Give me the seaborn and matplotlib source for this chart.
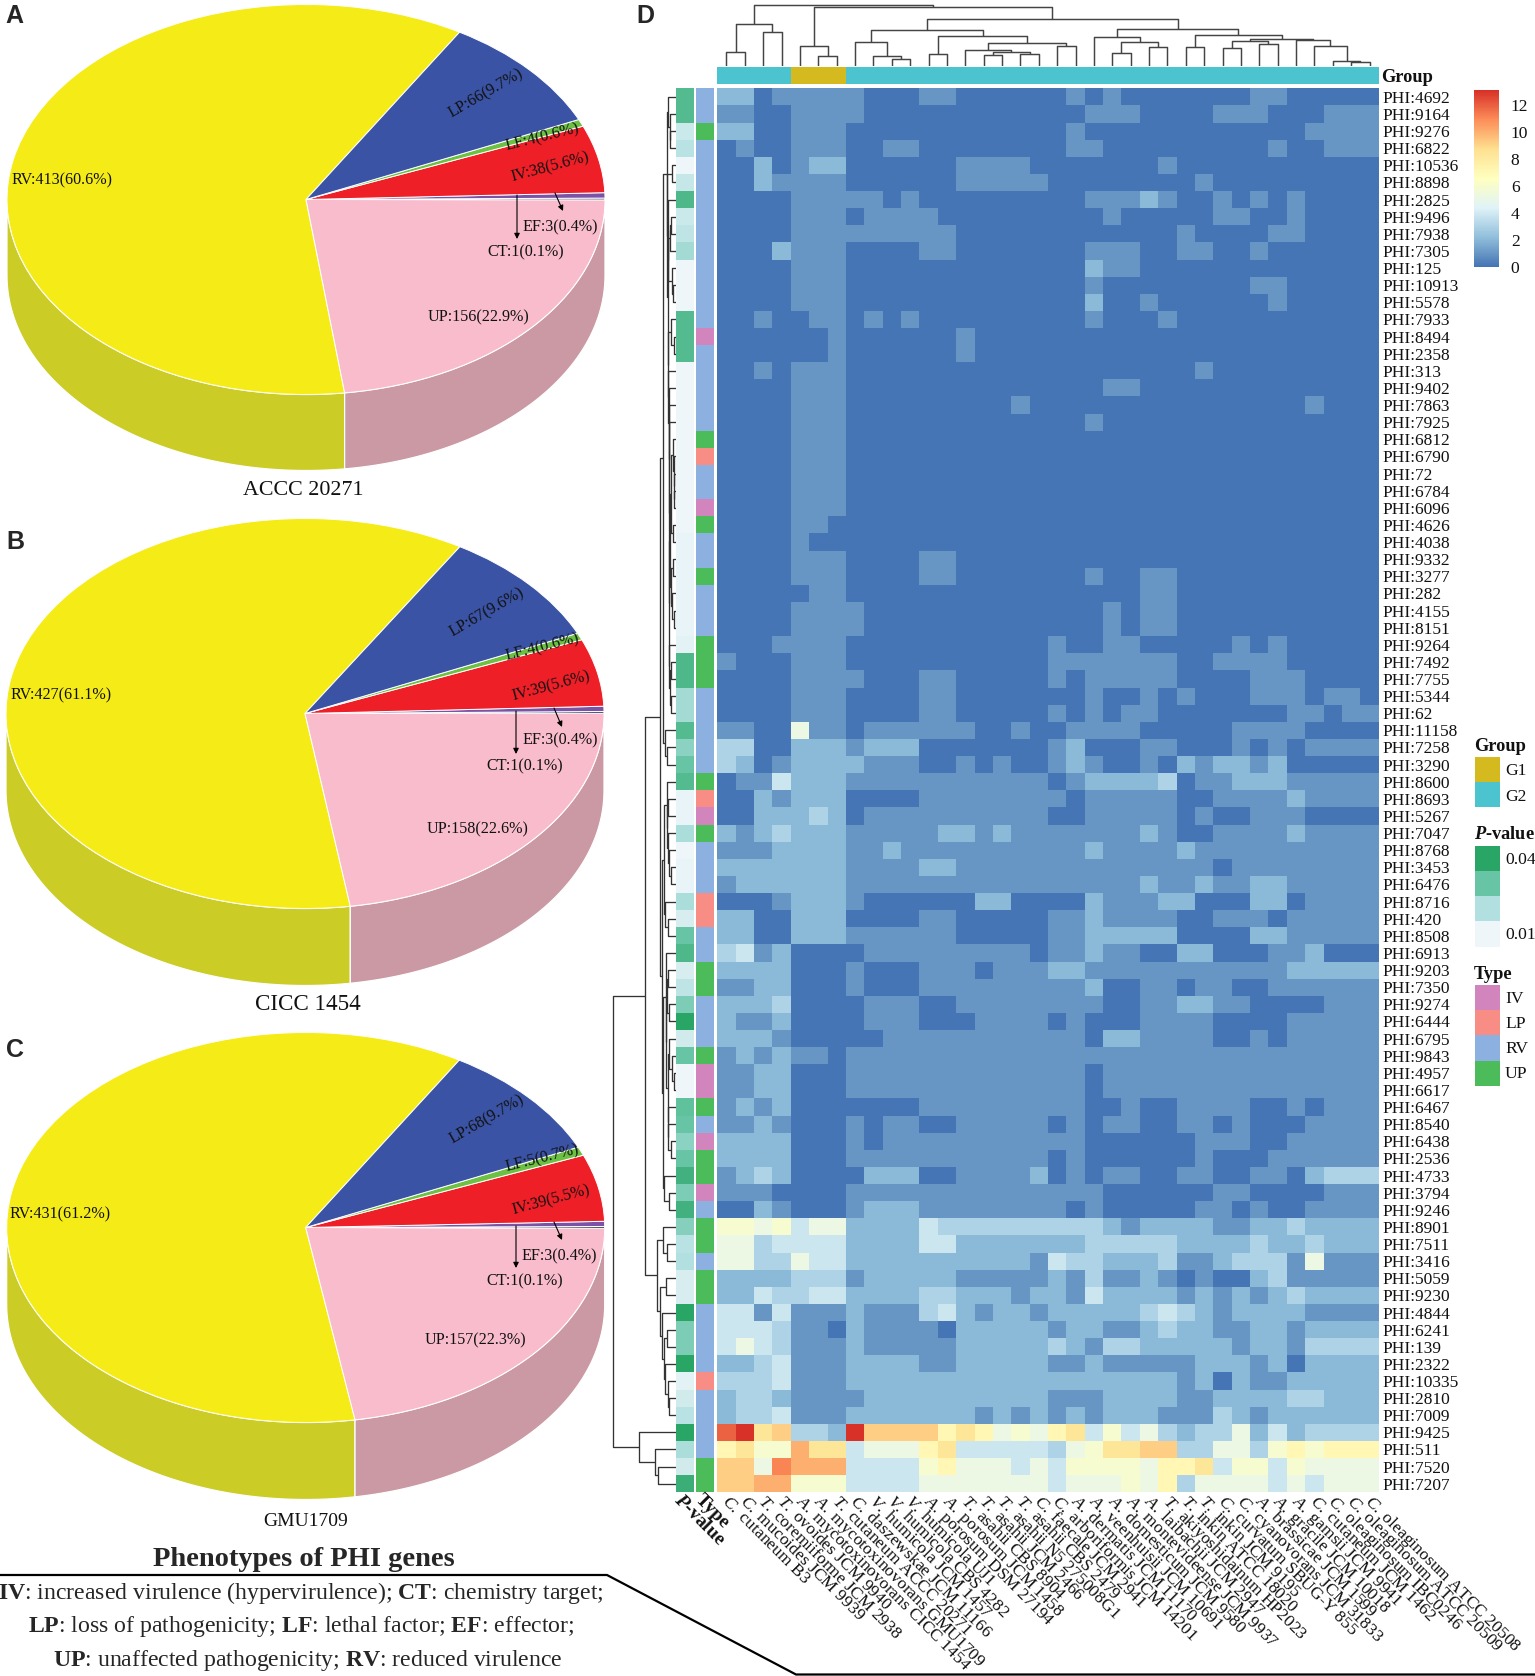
import numpy as np
import pandas as pd
import matplotlib
matplotlib.use("Agg")
import matplotlib.pyplot as plt
from matplotlib.colors import LinearSegmentedColormap, ListedColormap
from matplotlib.patches import Rectangle
from matplotlib.transforms import ScaledTranslation
import seaborn as sns

sns.set_style("white")
plt.rcParams['font.family'] = ['Liberation Serif', 'DejaVu Sans']
plt.rcParams['mathtext.fontset'] = 'custom'
plt.rcParams['mathtext.rm'] = 'Liberation Serif'
plt.rcParams['mathtext.it'] = 'Liberation Serif:italic'
plt.rcParams['mathtext.bf'] = 'Liberation Serif:bold'
plt.rcParams['mathtext.bfit'] = 'Liberation Serif:italic:bold'

W, H = 1535, 1676

# ---------- pie data ----------
pie_cats = ["RV", "UP", "CT", "EF", "IV", "LF", "LP"]
pie_a = [413, 156, 1, 3, 38, 4, 66]
pie_b = [427, 158, 1, 3, 39, 4, 67]
pie_c = [431, 157, 1, 3, 39, 5, 68]
pie_colors = ["#F5EC17", "#F8BCCC", "#1A1A40", "#7A52A6", "#EF1F28", "#6CC142", "#3A53A4"]
side_colors = {"RV": "#CCCC27", "UP": "#CA99A3"}
pie_labels_a = ["RV:413(60.6%)", "LP:66(9.7%)", "LF:4(0.6%)", "IV:38(5.6%)", "EF:3(0.4%)", "CT:1(0.1%)", "UP:156(22.9%)"]
pie_labels_b = ["RV:427(61.1%)", "LP:67(9.6%)", "LF:4(0.6%)", "IV:39(5.6%)", "EF:3(0.4%)", "CT:1(0.1%)", "UP:158(22.6%)"]
pie_labels_c = ["RV:431(61.2%)", "LP:68(9.7%)", "LF:5(0.7%)", "IV:39(5.5%)", "EF:3(0.4%)", "CT:1(0.1%)", "UP:157(22.3%)"]

# ---------- heat map data ----------
row_ids = """4692 9164 9276 6822 10536 8898 2825 9496 7938 7305 125 10913 5578 7933 8494 2358 313 9402 7863 7925
6812 6790 72 6784 6096 4626 4038 9332 3277 282 4155 8151 9264 7492 7755 5344 62 11158 7258 3290
8600 8693 5267 7047 8768 3453 6476 8716 420 8508 6913 9203 7350 9274 6444 6795 9843 4957 6617 6467
8540 6438 2536 4733 3794 9246 8901 7511 3416 5059 9230 4844 6241 139 2322 10335 2810 7009 9425 511 7520 7207""".split()

col_names = ["C. cutaneum B3", "C. mucoides JCM 9939", "T. coremiiforme JCM 2938", "T. ovoides JCM 9940",
             "A. mycotoxinovorans CICC 1454", "A. mycotoxinovorans GMU1709", "T. cutaneum ACCC 20271",
             "C. daszewskae JCM 11166", "V. humicola JCM 1457", "V. humicola CBS 4282", "V. humicola UJ1",
             "A. porosum DSM 27194", "A. porosum JCM 1458", "T. asahii CBS 8904", "T. asahii JCM 2466",
             "T. asahii N5 275008G1", "T. asahii CBS 2479", "C. faecale JCM 2941", "C. arboriformis JCM 14201",
             "A. dermatis JCM 11170", "A. veenhuisii JCM 10691", "A. domesticum JCM 9580",
             "A. montevideense JCM 9937", "A. laibachii JCM 2947", "T. akiyoshidainum HP2023",
             "T. inkin ATCC 18020", "T. inkin JCM 9195", "C. curvatum SBUG-Y 855", "C. cyanovorans JCM 31833",
             "A. brassicae JCM 1599", "A. gracile JCM 10018", "A. gamsii JCM 9941", "C. cutaneum JCM 1462",
             "C. oleaginosum IBC0246", "C. oleaginosum ATCC 20509", "C. oleaginosum ATCC 20508"]

# cell levels, one hex digit per cell
heat_rows = [
"220111 110001 100000 010100 000001 100000",
"110011 110000 000000 001110 000111 000111",
"220011 100000 000000 010000 000000 001111",
"010011 100110 000000 011000 000000 100111",
"002012 200000 011110 000000 100000 000000",
"002111 100000 011111 000000 001000 000000",
"000011 111010 000000 001112 100101 010000",
"000011 101111 000000 000100 000110 010000",
"000011 111111 100000 000000 010000 110000",
"000211 100001 100000 001110 011001 000000",
"000011 100000 000000 002110 000000 000000",
"000011 100000 000000 001000 000001 100000",
"000011 100000 000000 002001 000000 100000",
"001001 101010 000000 001000 100000 000000",
"000000 100000 010000 000000 000000 000000",
"000000 100000 010000 000000 000000 000000",
"001011 100000 000000 000000 001000 000000",
"000011 100000 000000 000110 000000 000000",
"000011 100000 000010 000000 000000 001000",
"000011 100000 000000 001000 000000 000000",
"000011 100000 000000 000000 000000 000000",
"000011 100000 000000 000000 000000 000000",
"000011 100000 000000 000000 000000 000000",
"000011 100000 000000 000000 000000 000000",
"000011 100000 000000 000000 000000 000000",
"000011 000000 000000 000000 000000 000000",
"000010 000000 000000 000000 000000 000000",
"000011 100001 100000 000000 000000 000000",
"000011 100001 100000 001001 100000 000000",
"000001 100000 000000 000001 100000 000000",
"000011 110000 000000 000101 100000 000000",
"000011 110000 000000 000101 100000 000000",
"000111 100000 000000 100110 000010 100000",
"100011 100000 000000 111111 100111 100000",
"000011 110001 100000 101111 100001 110000",
"000011 100001 100000 001001 010001 110110",
"000011 100001 100000 101011 000000 011011",
"110051 101111 110010 011110 000011 110000",
"330022 212220 000000 120001 100010 101111",
"320122 221110 010100 121001 021221 200000",
"011422 211111 111111 012222 301122 211111",
"002122 200001 111111 101111 100111 121111",
"002223 201111 111111 001111 101001 110000",
"212322 211111 221211 111112 100111 121111",
"111222 211211 111111 112111 121111 111111",
"222222 211112 211111 111111 111011 111111",
"122222 211111 111111 111112 112112 211111",
"000122 210000 002200 002111 220002 201111",
"220022 200001 100000 112111 100111 011111",
"220022 211111 100000 112222 200002 211111",
"341200 001111 111110 112110 022000 112000",
"222200 010001 110111 221111 111111 122222",
"112200 010001 111111 112001 101100 111111",
"222300 001110 011111 111001 122110 000111",
"211200 001110 001111 010001 111000 011111",
"222100 000111 111111 110221 111001 011111",
"121211 011111 111111 111111 111111 111111",
"112200 011111 111111 110111 111111 111111",
"112200 011111 111111 110111 111111 111111",
"121200 000001 111111 110010 011110 010111",
"112100 010110 011111 010110 011010 001111",
"222200 010111 111111 110000 001110 011111",
"222200 011111 111111 010000 001000 111111",
"123200 002220 011112 010110 011001 102333",
"111000 011111 111111 111000 000110 000111",
"002100 012221 111111 101000 001101 001111",
"665645 522224 333333 333212 222112 232222",
"553444 422224 422222 223333 322223 223222",
"553354 422222 222221 433222 311233 315111",
"222233 312222 211111 213112 101002 311111",
"224334 422223 322212 214222 212121 232222",
"441411 121113 421221 222223 432122 221111",
"444311 021111 022222 122112 322112 212222",
"454311 121111 122222 321332 222212 213333",
"223411 122221 122222 112111 112221 202222",
"333411 122222 222222 222222 212021 122222",
"233211 112222 222222 111222 211222 233222",
"233411 122222 221212 121222 111321 222222",
"cd8933 2d9999 787565 784645 323352 423333",
"7866a8 845557 844444 356889 933553 676777",
"995baa a44446 755545 466665 778466 465555",
"99aa66 644445 555555 455565 735555 454555",
]
level_values = [0, 1, 2, 3, 3.8, 5.2, 5.9, 7.1, 8.3, 9.2, 10, 11.1, 11.9, 13]

p_values = [.033, .033, .016, .019, .010, .017, .034, .016, .018, .022, .010, .010, .010, .033, .033, .033,
            .010, .010, .010, .010, .010, .010, .010, .010, .010, .010, .011, .011, .011, .011, .011, .011,
            .012, .034, .034, .022, .022, .033, .025, .030, .033, .011, .011, .021, .010, .011, .011, .021,
            .014, .030, .034, .014, .018, .027, .040, .015, .030, .010, .010, .031, .030, .025, .030, .036,
            .027, .036, .026, .019, .020, .014, .014, .040, .027, .027, .040, .012, .015, .019, .040, .021,
            .015, .037]
type_codes = ("RRURRRRRRR" "RRRRIRRRRR" "ULRRIURRUR" "RRUUURRRRR" "ULIURRRLLR"
              "RUURRRUIIU" "RIUUIRUURU" "URRRRLRRRRUU")
group_codes = ["G2"] * 4 + ["G1"] * 3 + ["G2"] * 29

type_names = ["IV", "LP", "RV", "UP"]
type_colors = ["#D285BD", "#F88D85", "#8CB0E0", "#4CBB5A"]
group_names = ["G1", "G2"]
group_colors = ["#D4B91F", "#4BC4CF"]
p_colors = ["#EFF6FA", "#B2E0E0", "#67C4A4", "#29A566"]
heat_colors = ["#4575B4", "#91BFDB", "#E0F3F8", "#FFFFBF", "#FEE090", "#FC8D59", "#D73027"]

# dendrograms: (height, left, right); integers are leaf positions
col_tree = (183,
            (124, (42, 0, 1), (100, 2, 3)),
            (175,
             (60, 4, (28, 5, 6)),
             (141,
              (107,
               (72, 7, (28, 8, (19, 9, 10))),
               (90, (35, 11, 12),
                (69, (47, 13, (40, (31, 14, 15), (35, 16, 17))), (59, 18, 19)))),
              (109,
               (85, 20, (72, (37, 21, 22), (55, 23, 24))),
               (91, (55, 25, 26),
                (81, (75, (53, 27, 28), (64, 29, 30)),
                 (77, 31, (60, 32, (14, 33, (10, 34, 35))))))))))

r20_31 = (17, (14, (7, 20, (6, 21, (5, 22, (4, 23, 24)))), (9, 25, 26)),
          (14, (9, 27, 28), (12, 29, (5, 30, 31))))
r32_36 = (20, 32, (18, (15, 33, 34), (15, 35, 36)))
r16_36 = (22, 16, (21, 17, (20, 18, (20, 19, (19, r20_31, r32_36)))))
r13_36 = (23, (15, 13, (4, 14, 15)), r16_36)
r6_12 = (23, 6, (22, (17, (15, 7, 8), 9), (12, 10, (9, 11, 12))))
r0_36 = (27, (22, 0, (17, 1, (17, 2, 3))), (25, (12, 4, 5), (24, r6_12, r13_36)))
r40_49 = (34, (27, 40, (25, (22, 41, 42), (24, 43, (20, 44, (15, 45, 46))))), (32, 47, (22, 48, 49)))
r51_62 = (29, (27, (22, 51, 52), (20, 53, 54)),
          (22, (20, 55, (12, 56, (4, 57, 58))), (22, 59, (22, 60, (14, 61, 62)))))
r50_65 = (37, (30, 50, r51_62), (35, 63, (20, 64, 65)))
r66_77 = (55, (39, 66, (26, 67, 68)),
          (47, (29, 69, 70), (42, 71, (36, (25, 72, 73), (31, 74, (24, 75, (20, 76, 77)))))))
row_tree = (187,
            (91, (47, (39, r0_36, (32, 37, (25, 38, 39))), (42, r40_49, r50_65)), r66_77),
            (111, 78, (61, 79, (52, 80, 81))))

# ---------- figure ----------
fig = plt.figure(figsize=(W / 100, H / 100), dpi=100, facecolor="white")


def axpx(l, t, r, b, **kw):
    return fig.add_axes([l / W, 1 - b / H, (r - l) / W, (b - t) / H], **kw)


ov = axpx(0, 0, W, H, zorder=10)
ov.set_xlim(0, W)
ov.set_ylim(H, 0)
ov.axis("off")
ov.patch.set_alpha(0)


def draw_pie(values, cx, cy, a, b, thick, start, labels, label_xy, arrows, title, title_xy, title_size):
    t = thick / b
    m = 2
    ax = axpx(cx - a - m, cy - b - m, cx + a + m, cy + b + thick + m)
    split = start + 360 * values[0] / sum(values)
    for cat, th0, th1 in [("RV", 180, split), ("UP", split, 360)]:
        th = np.radians(np.linspace(th0, th1, 120))
        xs = np.r_[np.cos(th), np.cos(th[::-1])]
        ys = np.r_[np.sin(th), np.sin(th[::-1]) - t]
        ax.fill(xs, ys, facecolor=side_colors[cat], edgecolor="white", linewidth=0.9, zorder=0.5)
    ax.pie(values, colors=pie_colors, startangle=start, counterclock=True,
           wedgeprops=dict(edgecolor="white", linewidth=0.7))
    ax.set_aspect("auto")
    ax.set_xlim(-(a + m) / a, (a + m) / a)
    ax.set_ylim(-(b + thick + m) / b, (b + m) / b)
    ax.axis("off")
    rots = [0, 30, 14, 15, 0, 0, 0]
    for s, (x, y), r in zip(labels, label_xy, rots):
        ov.text(x, y, s, ha="center", va="center", rotation=r, fontsize=11.6, color="#111111",
                rotation_mode="anchor")
    for (x0, y0, x1, y1) in arrows:
        ov.annotate("", xy=(x1, y1), xytext=(x0, y0),
                    arrowprops=dict(arrowstyle="-|>", color="black", lw=0.8, shrinkA=0, shrinkB=0,
                                    mutation_scale=8))
    ov.text(*title_xy, title, ha="center", va="center", fontsize=title_size, color="#111111")


draw_pie(pie_a, 306, 199.5, 299, 195, 76, 59.1, pie_labels_a,
         [(62, 180), (486, 94), (542.5, 137), (550, 167), (560, 227), (526, 252), (478.5, 317)],
         [(517, 195, 517, 239), (555, 193, 563, 211)], "ACCC 20271", (303.7, 490), 15.8)
draw_pie(pie_b, 305, 713.5, 299, 195, 77, 58.8, pie_labels_b,
         [(61, 695), (486.4, 612.5), (542, 647), (551.6, 686), (560, 740), (525, 766.5), (478, 829.5)],
         [(516, 711, 516, 754), (554, 708, 562, 727)], "CICC 1454", (308, 1004), 16.6)
draw_pie(pie_c, 305.7, 1227.5, 299, 195, 77, 59.1, pie_labels_c,
         [(60, 1214), (486.4, 1120), (542, 1158), (551.6, 1200.5), (559, 1256), (525, 1281), (475.7, 1340.5)],
         [(516, 1226, 516, 1268), (554, 1222, 562, 1240)], "GMU1709", (306, 1521.7), 14)

# panel letters
for s, x, y in [("A", 14.5, 16), ("B", 15, 542), ("C", 15, 1050), ("D", 645.6, 16)]:
    ov.text(x, y, s, ha="center", va="center", fontsize=18, fontweight="bold", family="Liberation Sans")

# notes at the lower left
ov.text(303.6, 1559, "Phenotypes of PHI genes", ha="center", va="center", fontsize=20.5, fontweight="bold")
ov.plot([0, 607, 796, W], [1575, 1575, 1674.5, 1674.5], color="black", lw=1.6, solid_joinstyle="miter")
ov.text(301, 1592.7, r"$\mathbf{IV}$: increased virulence (hypervirulence); $\mathbf{CT}$: chemistry target;",
        ha="center", va="center", fontsize=17.1)
ov.text(301.5, 1626.7, r"$\mathbf{LP}$: loss of pathogenicity; $\mathbf{LF}$: lethal factor; $\mathbf{EF}$: effector;",
        ha="center", va="center", fontsize=17.1)
ov.text(308, 1660, r"$\mathbf{UP}$: unaffected pathogenicity; $\mathbf{RV}$: reduced virulence",
        ha="center", va="center", fontsize=17.1)

# ---------- heat map ----------
HL, HR, HT, HB = 717.3, 1378.7, 88.3, 1492.3
cells = []
for s in heat_rows:
    s = s.replace(" ", "")
    assert len(s) == 36, s
    cells.append([level_values[int(c, 16)] for c in s])
assert len(cells) == len(row_ids) == len(p_values) == len(type_codes) == 82


def italic_name(n):
    g, rest = n.split(" ", 1)
    return r"$\mathit{" + g + "}$ " + rest


df = pd.DataFrame(cells, index=["PHI:" + r for r in row_ids], columns=col_names)
heat_cmap = LinearSegmentedColormap.from_list("heat", heat_colors, N=256)
ax = axpx(HL, HT, HR, HB)
cax = axpx(1474, 90, 1499, 266.7)
sns.heatmap(df, ax=ax, cmap=heat_cmap, vmin=0, vmax=13.1, cbar_ax=cax,
            xticklabels=True, yticklabels=True)
ax.yaxis.tick_right()
ax.set_yticklabels(df.index, rotation=0, fontsize=12.5, color="#111111")
ax.set_xticklabels([italic_name(n) for n in col_names], rotation=-45, ha="left", va="center",
                   rotation_mode="anchor", fontsize=12.6, color="#111111")
ax.tick_params(axis="y", length=0, pad=2.5)
ax.tick_params(axis="x", length=0, pad=5)
shift = ScaledTranslation(-2.5 / 100, 0, fig.dpi_scale_trans)
for lab in ax.get_xticklabels():
    lab.set_transform(lab.get_transform() + shift)
ax.set_xlabel("")
ax.set_ylabel("")
cax.set_yticks([0, 2, 4, 6, 8, 10, 12])
cax.tick_params(axis="y", length=0, pad=8.5, labelsize=12.6, labelcolor="#111111")
for sp in cax.spines.values():
    sp.set_visible(False)

# group strip
ax_g = axpx(HL, 66.7, HR, 84.3)
g_df = pd.DataFrame([[group_names.index(g) for g in group_codes]])
sns.heatmap(g_df, ax=ax_g, cmap=ListedColormap(group_colors), vmin=0, vmax=1, cbar=False,
            xticklabels=False, yticklabels=False)
ov.text(1381.5, 77.5, "Group", ha="left", va="center", fontsize=13.2, fontweight="bold", color="#111111")

# side strips
ax_p = axpx(676, HT, 694, HB)
p_cmap = LinearSegmentedColormap.from_list("p", p_colors, N=256)
sns.heatmap(pd.DataFrame({"P-value": p_values}), ax=ax_p, cmap=p_cmap, vmin=0.01, vmax=0.04, cbar=False,
            xticklabels=False, yticklabels=False)
ov.text(677, 1497, r"$\mathbfit{P}$-value", rotation=-45, ha="left", va="center",
        rotation_mode="anchor", fontsize=14, fontweight="bold", color="#111111")

ax_t = axpx(696.3, HT, 713.7, HB)
letter_to_idx = {"I": 0, "L": 1, "R": 2, "U": 3}
sns.heatmap(pd.DataFrame({"Type": [letter_to_idx[c] for c in type_codes]}), ax=ax_t,
            cmap=ListedColormap(type_colors), vmin=0, vmax=3, cbar=False,
            xticklabels=False, yticklabels=False)
ov.text(698, 1497, "Type", rotation=-45, ha="left", va="center", rotation_mode="anchor",
        fontsize=14, fontweight="bold", color="#111111")


# dendrograms
def walk(node, segs):
    if not isinstance(node, tuple):
        return node + 0.5, 0
    h, l, r = node
    pl, hl = walk(l, segs)
    pr, hr = walk(r, segs)
    segs.append(((pl, pl, pr, pr), (hl, h, h, hr)))
    return (pl + pr) / 2, h


ax_d = axpx(HL, 0, HR, 65.7)
segs = []
walk(col_tree, segs)
for ps, hs in segs:
    ax_d.plot(ps, hs, color="#444444", lw=1.05, solid_capstyle="butt")
ax_d.set_xlim(0, 36)
ax_d.set_ylim(0, 197)
ax_d.axis("off")

ax_r = axpx(675.7 - 190 / 3, HT, 675.7, HB)
segs = []
walk(row_tree, segs)
for ps, hs in segs:
    ax_r.plot(hs, ps, color="#333333", lw=0.95, solid_capstyle="butt")
ax_r.set_ylim(82, 0)
ax_r.set_xlim(190, 0)
ax_r.axis("off")

# ---------- legends ----------
LX0, LX1, TX = 1475, 1500, 1505


def legend_block(title, title_y, colors, tops, labels):
    ov.text(LX0 - 1, title_y, title, ha="left", va="center", fontsize=13.2, fontweight="bold", color="#111111")
    for c, t0, t1 in zip(colors, tops[:-1], tops[1:]):
        ov.add_patch(Rectangle((LX0, t0), LX1 - LX0, t1 - t0, facecolor=c, edgecolor="none"))
    for s, y in labels:
        ov.text(TX, y, s, ha="left", va="center", fontsize=12.6, color="#111111")


legend_block("Group", 746, group_colors, [757.3, 782, 807.3], [("G1", 770.5), ("G2", 796.5)])
legend_block(r"$\mathbfit{P}$-value", 834, p_colors[::-1], [845.7, 870.7, 896, 921.3, 946.7],
             [("0.04", 859.5), ("0.01", 935)])
legend_block("Type", 974, type_colors, [984.7, 1010, 1035.3, 1060.7, 1086],
             [("IV", 998.5), ("LP", 1023.5), ("RV", 1049), ("UP", 1073.5)])

fig.savefig("out.png", dpi=100, facecolor="white")
